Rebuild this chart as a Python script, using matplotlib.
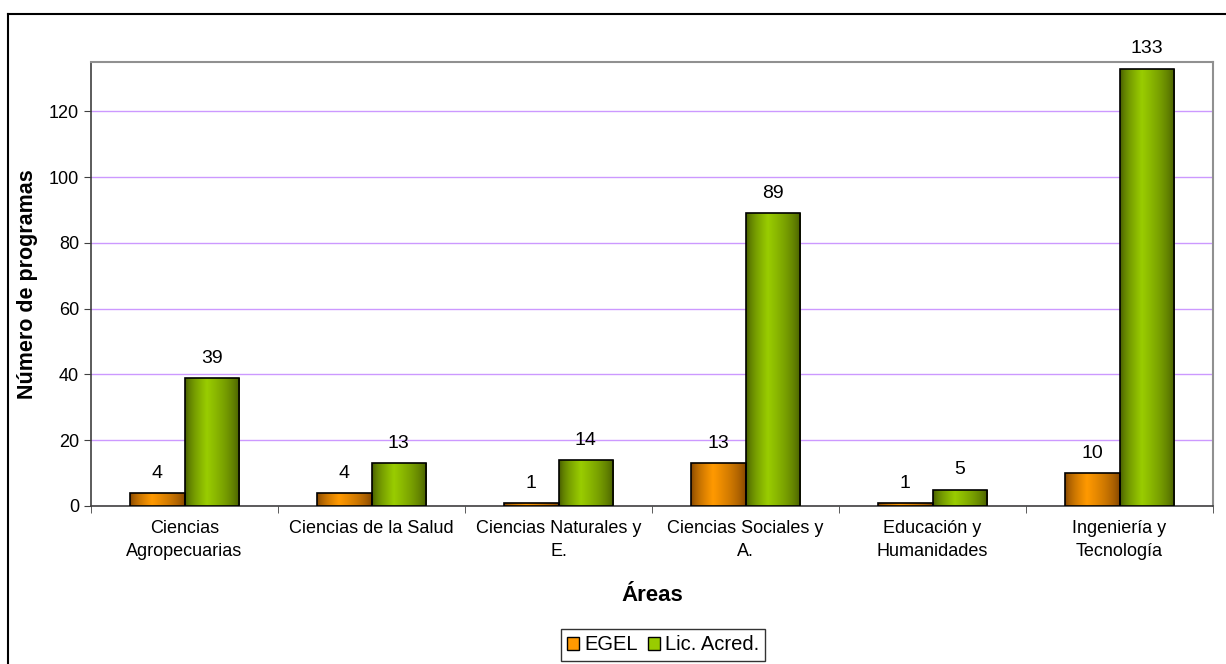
import matplotlib.pyplot as plt
import numpy as np
from matplotlib.colors import LinearSegmentedColormap
from matplotlib.patches import Rectangle, Patch
from matplotlib.lines import Line2D

plt.rcParams['font.family'] = ['Liberation Sans', 'DejaVu Sans']

# datos
areas = ["Ciencias\nAgropecuarias", "Ciencias de la Salud", "Ciencias Naturales y\nE.",
         "Ciencias Sociales y\nA.", "Educación y\nHumanidades", "Ingeniería y\nTecnología"]
egel = [4, 4, 1, 13, 1, 10]
lic_acred = [39, 13, 14, 89, 5, 133]
series_names = ["EGEL", "Lic. Acred."]
yticks = [0, 20, 40, 60, 80, 100, 120]

fig = plt.figure(figsize=(12.26, 6.64), dpi=100)
ax = fig.add_axes([91/1226, 1 - 506/664, (1213 - 91)/1226, (506 - 62)/664])

# degradado horizontal tipo Excel
perfil = np.linspace(0, 1, 200)
perfil = np.clip(1 - np.abs(perfil - 0.4) / np.where(perfil < 0.4, 0.4, 0.6), 0, 1) ** 0.6
perfil = perfil.reshape(1, -1)
cmap_nar = LinearSegmentedColormap.from_list("nar", ["#7a3f00", "#ff9900"])
cmap_ver = LinearSegmentedColormap.from_list("ver", ["#3f5200", "#99cc00"])

x = np.arange(len(areas))
w = 0.29


def barra(x0, h, cmap):
    r = Rectangle((x0, 0), w, h, facecolor='none', edgecolor='black', lw=1.2, zorder=4)
    ax.add_patch(r)
    im = ax.imshow(perfil, cmap=cmap, vmin=0, vmax=1, aspect='auto',
                   extent=[x0, x0 + w, 0, h], zorder=3, interpolation='bilinear')
    im.set_clip_path(r)


for i in range(len(areas)):
    barra(x[i] - w, egel[i], cmap_nar)
    barra(x[i], lic_acred[i], cmap_ver)
    ax.annotate(str(egel[i]), (x[i] - w / 2, egel[i]), xytext=(0, 8),
                textcoords='offset points', ha='center', va='bottom', fontsize=14)
    ax.annotate(str(lic_acred[i]), (x[i] + w / 2, lic_acred[i]), xytext=(0, 8),
                textcoords='offset points', ha='center', va='bottom', fontsize=14)

ax.set_xlim(-0.5, len(areas) - 0.5)
ax.set_ylim(0, 135)
ax.set_yticks(yticks)
ax.set_xticks(x)
ax.set_xticklabels(areas, fontsize=13, linespacing=1.45)
ax.set_xticks(np.arange(-0.5, len(areas), 1), minor=True)
ax.tick_params(axis='x', which='major', length=0, pad=10)
ax.tick_params(axis='x', which='minor', length=5, direction='out', color='#404040')
ax.tick_params(axis='y', length=5, direction='out', labelsize=13, color='#404040')
ax.grid(axis='y', color='#cc99ff', lw=1, zorder=0)
ax.set_axisbelow(True)
for s in ['top', 'right']:
    ax.spines[s].set_color('#909090')
    ax.spines[s].set_linewidth(1.5)
for s in ['left', 'bottom']:
    ax.spines[s].set_color('#404040')
    ax.spines[s].set_linewidth(1.2)

ax.set_ylabel("Número de programas", fontsize=15.5, fontweight='bold', labelpad=8)
ax.set_xlabel("Áreas", fontsize=16, fontweight='bold', labelpad=18)

handles = [Patch(facecolor='#ff9900', edgecolor='black'), Patch(facecolor='#99cc00', edgecolor='black')]
leg = fig.legend(handles, series_names, loc='center', bbox_to_anchor=(663/1226, 1 - 645/664),
                 ncol=2, fontsize=14.5, frameon=True, fancybox=False, handlelength=0.6,
                 handleheight=0.6, handletextpad=0.25, columnspacing=0.5, borderpad=0.3)
leg.get_frame().set_edgecolor('black')
leg.get_frame().set_linewidth(1)

# borde exterior
fig.add_artist(Line2D([8/1226, 8/1226], [0, 1 - 14/664], color='black', lw=1.5))
fig.add_artist(Line2D([8/1226, 1], [1 - 14/664, 1 - 14/664], color='black', lw=1.5))

fig.savefig("out.png", dpi=100)
